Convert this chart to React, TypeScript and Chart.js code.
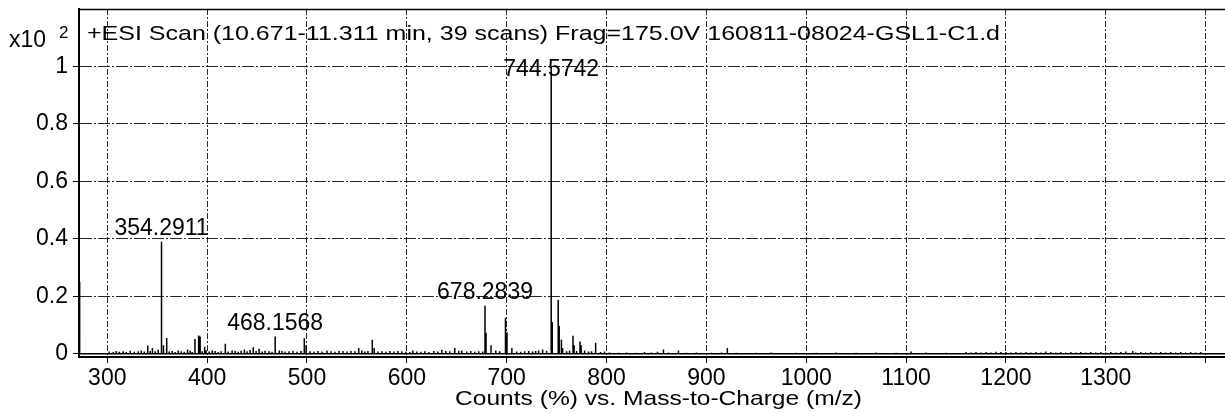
import React, { useEffect, useRef } from 'react';
import { Chart, registerables } from 'chart.js';

Chart.register(...registerables);

// ---- data ----
const peakMz = [
  272.3, 340.5, 345.2, 354.2911, 356.3, 359.5, 371.0, 380.4, 387.8, 391.5, 393.0, 397.5,
  405.1, 418.2, 425.0, 437.3, 446.2, 452.0, 468.1568, 472.3, 497.3, 499.2, 520.0, 536.0,
  551.8, 565.4, 567.3, 591.0, 606.0, 627.0, 635.0, 648.0, 655.0, 678.2839, 679.3, 684.3,
  689.0, 698.8, 700.3, 705.2, 722.0, 732.0, 736.0, 744.5742, 745.6, 751.6, 752.6, 754.8,
  756.0, 766.4, 767.5, 773.4, 774.6, 778.0, 789.1, 798.0, 857.0, 872.0, 921.0, 1105.0, 1327.0,
];
const peakInt = [
  0.25, 0.029, 0.02, 0.39, 0.03, 0.055, 0.012, 0.015, 0.052, 0.064, 0.06, 0.025,
  0.012, 0.035, 0.012, 0.015, 0.023, 0.018, 0.06, 0.012, 0.054, 0.03, 0.012, 0.01,
  0.02, 0.049, 0.02, 0.01, 0.012, 0.01, 0.014, 0.02, 0.012, 0.167, 0.073, 0.03,
  0.012, 0.125, 0.074, 0.02, 0.01, 0.012, 0.015, 1.0, 0.11, 0.188, 0.098, 0.049,
  0.02, 0.063, 0.03, 0.043, 0.03, 0.012, 0.039, 0.008, 0.015, 0.012, 0.02, 0.008, 0.01,
];

const noiseMz = [
  302, 306, 309, 312, 316, 319, 323, 327, 331, 334, 337, 343, 348, 351, 362, 365, 368, 374,
  377, 383, 385, 395, 399, 402, 408, 411, 414, 421, 428, 431, 434, 440, 443, 449, 455, 458,
  462, 465, 475, 478, 482, 486, 490, 494, 503, 507, 511, 515, 524, 528, 532, 540, 544, 548,
  555, 558, 561, 571, 575, 579, 583, 587, 595, 599, 603, 610, 614, 618, 622, 631, 639, 643,
  652, 660, 664, 668, 672, 676, 693, 710, 714, 718, 726, 729, 740, 760, 763, 770, 782, 785,
  794, 803, 812, 820, 830, 838, 845, 851, 862, 880, 890, 905, 915, 930, 950, 965, 990, 1010,
  1030, 1050, 1070, 1090, 1120, 1140, 1160, 1165, 1170, 1175, 1180, 1185, 1190, 1195, 1200,
  1205, 1210, 1215, 1220, 1225, 1230, 1235, 1240, 1245, 1250, 1255, 1260, 1265, 1270, 1275,
  1280, 1285, 1290, 1295, 1300, 1305, 1310, 1315, 1320, 1330, 1335, 1340, 1345, 1350, 1355,
  1360, 1365, 1370, 1375, 1380, 1385, 1390, 1395,
];
const noiseInt = [
  0.008, 0.006, 0.01, 0.007, 0.009, 0.006, 0.011, 0.007, 0.009, 0.012, 0.008, 0.01, 0.009, 0.014, 0.008, 0.01, 0.006, 0.009,
  0.007, 0.011, 0.006, 0.009, 0.012, 0.008, 0.01, 0.006, 0.009, 0.008, 0.01, 0.007, 0.011, 0.009, 0.013, 0.01, 0.008, 0.011,
  0.009, 0.007, 0.01, 0.008, 0.009, 0.011, 0.007, 0.01, 0.009, 0.007, 0.01, 0.008, 0.009, 0.007, 0.011, 0.008, 0.01, 0.009,
  0.012, 0.008, 0.01, 0.008, 0.009, 0.007, 0.01, 0.008, 0.009, 0.007, 0.006, 0.008, 0.007, 0.009, 0.006, 0.008, 0.01, 0.009,
  0.011, 0.008, 0.01, 0.007, 0.009, 0.008, 0.009, 0.008, 0.007, 0.009, 0.008, 0.01, 0.011, 0.009, 0.012, 0.01, 0.008, 0.009,
  0.006, 0.005, 0.004, 0.005, 0.004, 0.006, 0.005, 0.007, 0.005, 0.004, 0.005, 0.004, 0.005, 0.004, 0.004, 0.005, 0.004, 0.004,
  0.005, 0.004, 0.005, 0.004, 0.005, 0.004, 0.006, 0.005, 0.006, 0.005, 0.006, 0.005, 0.007, 0.006, 0.006,
  0.005, 0.006, 0.005, 0.006, 0.005, 0.006, 0.005, 0.008, 0.006, 0.005, 0.006, 0.005, 0.006, 0.005, 0.006,
  0.005, 0.006, 0.005, 0.006, 0.005, 0.006, 0.005, 0.006, 0.008, 0.005, 0.006, 0.005, 0.006, 0.005, 0.006,
  0.005, 0.006, 0.005, 0.006, 0.005, 0.006, 0.005, 0.006,
];

const labelMz = [354.2911, 468.1568, 678.2839, 744.5742];
const labelInt = [0.39, 0.06, 0.167, 1.0];
const labelText = ['354.2911', '468.1568', '678.2839', '744.5742'];

const xTicks = [300, 400, 500, 600, 700, 800, 900, 1000, 1100, 1200, 1300, 1400];
const xTickLabels = ['300', '400', '500', '600', '700', '800', '900', '1000', '1100', '1200', '1300', ''];
const yTicks = [0, 0.2, 0.4, 0.6, 0.8, 1];
const yTickLabels = ['0', '0.2', '0.4', '0.6', '0.8', '1'];

const titleText = '+ESI Scan (10.671-11.311 min, 39 scans) Frag=175.0V 160811-08024-GSL1-C1.d';
const xAxisTitle = 'Counts (%) vs. Mass-to-Charge (m/z)';
const yUnitBase = 'x10';
const yUnitExp = '2';

const X_MIN = 271.66;
const X_MAX = 1419.4;
const Y_MIN = -0.011;
const Y_MAX = 1.2;

const FONT = '"Liberation Sans", Arial, sans-serif';

function buildSticks() {
  const all: { x: number; y: number }[] = [];
  for (let i = 0; i < peakMz.length; i++) all.push({ x: peakMz[i], y: peakInt[i] });
  for (let i = 0; i < noiseMz.length; i++) all.push({ x: noiseMz[i], y: noiseInt[i] });
  all.sort((a, b) => a.x - b.x);
  const pts: { x: number; y: number }[] = [{ x: X_MIN, y: 0 }];
  for (const p of all) {
    pts.push({ x: p.x, y: 0 });
    pts.push({ x: p.x, y: p.y });
    pts.push({ x: p.x, y: 0 });
  }
  pts.push({ x: X_MAX, y: 0 });
  return pts;
}

const overlayPlugin = {
  id: 'overlay',
  afterDraw(chart: any) {
    const ctx = chart.ctx;
    const area = chart.chartArea;
    const xs = chart.scales.x;
    const ys = chart.scales.y;
    ctx.save();
    // top frame line
    ctx.strokeStyle = '#000';
    ctx.lineWidth = 1.5;
    ctx.beginPath();
    ctx.moveTo(area.left, area.top + 0.5);
    ctx.lineTo(area.right, area.top + 0.5);
    ctx.stroke();

    ctx.fillStyle = '#000';
    ctx.textBaseline = 'alphabetic';
    // header text, stretched to fit
    ctx.font = `21px ${FONT}`;
    const tw = ctx.measureText(titleText).width;
    const sx = 913 / tw;
    ctx.save();
    ctx.translate(87, 40);
    ctx.scale(sx, 1);
    ctx.textAlign = 'left';
    ctx.fillText(titleText, 0, 0);
    ctx.restore();

    // y unit
    ctx.textAlign = 'left';
    ctx.font = `23px ${FONT}`;
    ctx.fillText(yUnitBase, 9, 47);
    ctx.font = `17px ${FONT}`;
    ctx.fillText(yUnitExp, 59, 38);

    // x axis title
    ctx.font = `21px ${FONT}`;
    const aw = ctx.measureText(xAxisTitle).width;
    const asx = 407 / aw;
    ctx.save();
    ctx.translate(455, 405);
    ctx.scale(asx, 1);
    ctx.fillText(xAxisTitle, 0, 0);
    ctx.restore();

    // peak labels
    ctx.font = `23px ${FONT}`;
    ctx.textAlign = 'center';
    for (let i = 0; i < labelMz.length; i++) {
      const px = xs.getPixelForValue(labelMz[i]);
      const py = ys.getPixelForValue(labelInt[i]);
      const base = Math.max(py - 7, 76);
      ctx.fillText(labelText[i], px, base);
    }
    ctx.restore();
  },
};

export default function App() {
  const ref = useRef<HTMLCanvasElement | null>(null);
  useEffect(() => {
    if (!ref.current) return;
    const chart = new Chart(ref.current, {
      type: 'line',
      data: {
        datasets: [
          {
            data: buildSticks(),
            borderColor: '#000',
            borderWidth: 1.5,
            pointRadius: 0,
            tension: 0,
            fill: false,
          },
        ],
      },
      options: {
        responsive: false,
        animation: false,
        devicePixelRatio: 1,
        parsing: false,
        normalized: true,
        layout: { padding: { top: 9, right: 0, left: 0, bottom: 0 } },
        plugins: { legend: { display: false }, tooltip: { enabled: false }, title: { display: false } },
        scales: {
          x: {
            type: 'linear',
            min: X_MIN,
            max: X_MAX,
            afterBuildTicks: (s: any) => {
              s.ticks = xTicks.map((v) => ({ value: v }));
            },
            afterFit: (s: any) => {
              s.height = 56;
              s.paddingLeft = 0;
              s.paddingRight = 0;
            },
            ticks: {
              autoSkip: false,
              maxRotation: 0,
              padding: 2,
              color: '#000',
              font: { family: FONT, size: 23 },
              callback: (v: any) => {
                const i = xTicks.indexOf(Number(v));
                return i >= 0 ? xTickLabels[i] : '';
              },
            },
            grid: {
              color: 'rgba(0,0,0,0.85)',
              lineWidth: 1,
              tickLength: 6,
              tickColor: '#000',
              tickBorderDash: [],
              tickWidth: 1,
            },
            border: { display: true, color: '#000', width: 2, dash: [6, 2, 2, 2] },
          },
          y: {
            type: 'linear',
            min: Y_MIN,
            max: Y_MAX,
            afterBuildTicks: (s: any) => {
              s.ticks = yTicks.map((v) => ({ value: v }));
            },
            afterFit: (s: any) => {
              s.width = 79;
              s.paddingTop = 0;
              s.paddingBottom = 0;
            },
            ticks: {
              padding: 5,
              color: '#000',
              font: { family: FONT, size: 23 },
              callback: (v: any) => {
                const i = yTicks.findIndex((t) => Math.abs(t - Number(v)) < 1e-6);
                return i >= 0 ? yTickLabels[i] : '';
              },
            },
            grid: {
              color: 'rgba(0,0,0,0.85)',
              lineWidth: 1,
              tickLength: 6,
              tickColor: '#000',
              tickBorderDash: [],
              tickWidth: 1,
            },
            border: { display: true, color: '#000', width: 2, dash: [12, 2, 2, 2] },
          },
        },
      },
      plugins: [overlayPlugin],
    } as any);
    return () => chart.destroy();
  }, []);
  return (
    <div style={{ position: 'fixed', left: 0, top: 0, width: 1225, height: 413, background: '#fff' }}>
      <canvas ref={ref} width={1225} height={413} style={{ display: 'block', width: 1225, height: 413 }} />
    </div>
  );
}
